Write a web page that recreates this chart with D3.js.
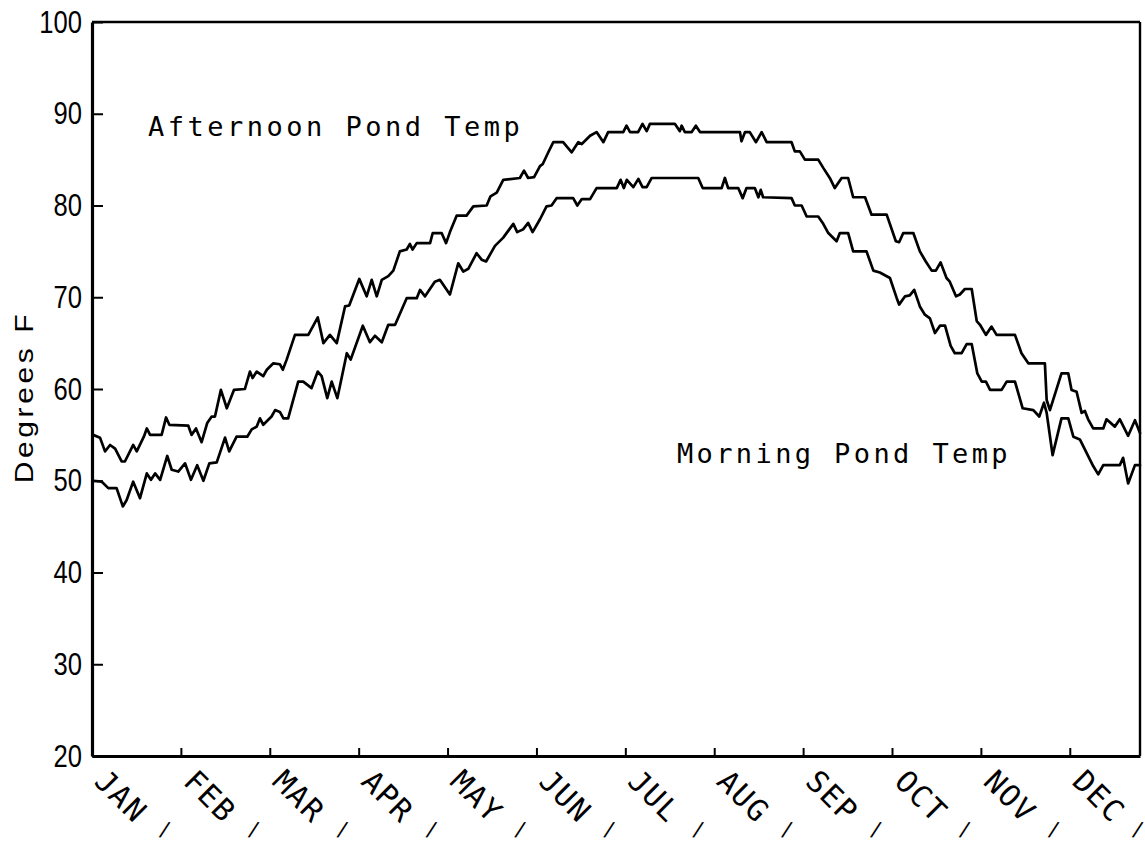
<!DOCTYPE html>
<html>
<head>
<meta charset="utf-8">
<script src="https://cdn.jsdelivr.net/npm/d3@7"></script>
<style>
  body { margin: 0; background: #fff; }
  svg { display: block; }
  .axis path, .axis line { stroke: #000; }
  .axis text { fill: #000; }
  .line { fill: none; stroke: #000; stroke-width: 2.7; stroke-linejoin: round; stroke-linecap: round; }
  .plotter { font-family: "DejaVu Sans Mono", monospace; fill: #000; }
</style>
</head>
<body>
<svg width="1145" height="845"></svg>
<script>
// Months on the x axis (30-day steps), y tick values
const months = ["JAN","FEB","MAR","APR","MAY","JUN","JUL","AUG","SEP","OCT","NOV","DEC"];
const monthStarts = [0, 30, 60, 90, 120, 150, 180, 210, 240, 270, 300, 330];
const yTicks = [20, 30, 40, 50, 60, 70, 80, 90, 100];

// Afternoon pond temperature (day, °F)
const afternoonDay = [0.4,2.7,4.4,6.1,7.8,10.0,11.1,13.9,15.1,17.5,18.5,19.6,23.5,25.0,26.1,32.5,33.6,35.1,37.0,38.9,
  40.4,41.5,43.5,45.5,47.9,51.6,53.3,54.2,55.6,57.8,59.0,61.2,63.4,64.4,65.7,68.5,73.0,76.2,78.1,80.3,
  82.6,85.4,86.8,90.2,92.7,94.4,96.1,97.8,100.0,101.7,103.9,106.2,107.3,108.2,109.6,114.1,115.0,118.0,119.5,120.8,
  123.1,126.4,128.7,133.2,134.5,136.6,138.8,144.4,145.8,147.2,149.2,151.2,152.1,154.0,155.7,159.0,161.9,164.1,165.3,168.1,
  170.3,172.6,174.2,179.3,180.4,181.6,184.3,185.8,187.2,188.3,196.7,198.4,199.0,200.1,202.4,203.8,205.2,218.7,219.2,220.4,
  222.0,224.1,226.0,227.7,236.1,237.2,238.9,240.6,245.1,246.8,249.0,250.7,253.0,255.2,256.9,260.9,263.1,268.2,271.3,272.4,
  273.8,277.2,279.4,281.4,283.4,284.8,286.4,288.4,289.5,291.6,292.9,294.6,296.9,298.6,299.7,301.7,303.6,305.3,311.5,313.7,
  316.0,321.6,322.2,323.3,327.2,329.5,330.6,332.3,334.0,335.1,336.2,337.9,341.3,342.4,345.2,346.9,349.7,352.0,353.7];
const afternoonTemp = [55.0,54.7,53.2,53.9,53.5,52.1,52.1,53.9,53.2,54.8,55.7,55.0,55.0,56.9,56.1,56.0,55.0,55.7,54.2,56.3,
  57.0,57.0,59.9,57.9,59.9,60.0,61.9,61.2,61.9,61.4,62.1,62.8,62.7,62.1,63.2,65.9,65.9,67.8,65.0,65.9,
  65.0,69.0,69.1,72.0,70.1,71.9,70.1,71.9,72.3,72.9,75.0,75.2,75.8,75.2,75.9,75.9,77.0,77.0,75.9,77.1,
  78.9,78.9,79.9,80.0,81.0,81.4,82.8,83.0,83.8,83.0,83.1,84.3,84.5,85.8,86.9,86.9,85.8,86.9,86.7,87.6,
  88.0,86.9,88.0,88.0,88.7,88.0,88.0,88.9,88.1,88.9,88.9,88.1,88.7,88.0,88.0,88.7,88.0,88.0,87.0,88.0,
  88.0,86.9,88.0,86.9,86.9,85.9,85.9,85.0,85.0,84.1,83.0,81.9,83.0,83.0,80.9,80.9,79.0,79.0,76.1,76.0,
  77.0,77.0,75.0,73.9,72.9,72.9,73.8,72.1,71.7,70.1,70.3,70.9,70.9,67.4,67.0,65.9,66.8,65.9,65.9,63.9,
  62.8,62.8,58.8,57.7,61.7,61.7,59.9,59.7,57.4,57.6,56.7,55.7,55.7,56.7,55.9,56.7,54.9,56.6,55.2];

// Morning pond temperature (day, °F)
const morningDay = [0.4,3.3,5.5,8.3,10.4,11.7,13.9,16.2,18.5,19.9,21.3,23.0,25.4,26.9,29.1,31.4,33.4,35.5,37.6,39.6,
  42.1,44.9,46.3,48.8,52.4,53.9,55.6,56.7,57.8,60.6,61.8,63.4,64.6,66.2,69.6,71.3,74.1,76.2,77.5,79.4,
  80.9,82.8,86.0,87.3,91.4,93.8,95.5,97.8,100.0,102.3,106.2,109.6,110.7,112.4,115.7,117.4,120.8,123.6,125.3,127.0,
  129.8,131.5,133.0,136.0,138.8,142.2,143.5,145.5,147.2,148.7,151.2,153.4,155.1,156.8,162.4,163.8,165.3,168.1,170.3,177.1,
  178.4,179.5,180.5,182.7,184.4,185.8,187.2,188.9,204.6,206.1,212.5,213.6,214.7,218.1,219.6,220.9,223.7,224.9,225.7,226.5,
  236.1,237.2,239.5,241.2,245.1,246.8,248.5,251.3,252.4,255.2,256.9,261.4,263.7,265.9,269.3,271.6,272.4,274.4,276.0,277.5,
  279.4,281.1,282.8,284.5,286.2,287.9,289.8,291.2,293.5,295.2,296.9,298.8,300.3,301.7,303.1,307.0,308.7,311.5,314.1,317.7,
  319.7,321.3,322.2,324.2,327.2,329.5,331.2,333.4,337.9,339.6,341.3,346.9,348.0,349.7,352.0,353.7];
const morningTemp = [50.0,49.9,49.2,49.2,47.2,47.9,49.9,48.1,50.8,50.1,50.8,50.1,52.7,51.2,51.0,51.9,50.1,51.7,50.0,51.9,
  52.0,54.7,53.2,54.8,54.8,55.6,55.9,56.8,56.1,57.0,57.7,57.5,56.8,56.8,60.8,60.8,60.1,61.9,61.4,59.0,
  60.8,59.0,63.9,63.2,66.9,65.1,65.8,65.1,67.0,67.0,69.9,69.9,70.8,70.1,71.7,71.9,70.3,73.7,72.8,73.1,
  74.8,74.1,73.9,75.6,76.5,78.0,77.1,77.4,78.1,77.1,78.5,79.9,80.0,80.8,80.8,80.0,80.7,80.7,81.9,81.9,
  82.8,81.9,82.8,82.0,82.9,82.0,82.0,83.0,83.0,81.9,81.9,83.0,81.9,81.9,80.8,81.9,81.9,80.9,81.7,80.9,
  80.8,80.0,80.0,78.8,78.8,78.0,77.0,76.1,77.0,77.0,75.0,75.0,72.9,72.7,72.1,69.9,69.2,70.1,70.2,70.8,
  69.0,68.1,67.7,66.1,66.9,66.9,64.7,63.9,63.9,64.9,64.9,61.7,60.8,60.8,59.9,59.9,60.8,60.8,57.9,57.7,
  57.0,58.5,57.4,52.8,56.8,56.8,54.8,54.5,51.6,50.7,51.7,51.7,52.5,49.7,51.7,51.7];

const svg = d3.select("svg"),
    margin = {top: 22, right: 5, bottom: 89, left: 92},
    width = svg.attr("width") - margin.left - margin.right,
    height = svg.attr("height") - margin.top - margin.bottom,
    g = svg.append("g").attr("transform", "translate(" + margin.left + "," + margin.top + ")");

const xScale = d3.scaleLinear().domain([0, 353.7]).range([0, width]),
    yScale = d3.scaleLinear().domain([20, 100]).range([height, 0]);

const line = d3.line()
    .x(function(d) { return xScale(d.day); })
    .y(function(d) { return yScale(d.temp); });

const series = [
  {id: "afternoon", values: afternoonDay.map(function(d, i) { return {day: d, temp: afternoonTemp[i]}; })},
  {id: "morning", values: morningDay.map(function(d, i) { return {day: d, temp: morningTemp[i]}; })}
];

// Frame: top and right edges
g.append("line").attr("x1", 0).attr("x2", width).attr("y1", 0).attr("y2", 0)
    .attr("stroke", "#000").attr("stroke-width", 2.4);
g.append("line").attr("x1", width).attr("x2", width).attr("y1", 0).attr("y2", height)
    .attr("stroke", "#000").attr("stroke-width", 2.4);

// Y axis, ticks pointing inside, narrow labels
const yAxis = g.append("g")
    .attr("class", "axis")
    .call(d3.axisLeft(yScale).tickValues(yTicks).tickSize(-11).tickSizeOuter(0).tickPadding(10));
yAxis.select(".domain").attr("stroke-width", 3.2);
yAxis.selectAll(".tick line").attr("stroke-width", 2);
yAxis.selectAll("text")
    .attr("x", -10 / 0.8)
    .attr("transform", "scale(0.8,1)")
    .style("font-family", "'Liberation Sans', Arial, sans-serif")
    .style("font-size", "32px");

// X axis, month ticks pointing inside
const xAxis = g.append("g")
    .attr("class", "axis")
    .attr("transform", "translate(0," + height + ")")
    .call(d3.axisBottom(xScale).tickValues(monthStarts).tickSize(-8).tickSizeOuter(0).tickFormat(""));
xAxis.select(".domain").attr("stroke-width", 3.2);
xAxis.selectAll(".tick line").attr("stroke-width", 2);

// Month labels at 45 degrees, with the slash marks under them
const monthLabel = g.append("g").selectAll("g")
    .data(monthStarts)
  .enter().append("g")
    .attr("transform", function(d) { return "translate(" + xScale(d) + "," + height + ")"; });

monthLabel.append("text")
    .attr("class", "plotter")
    .attr("transform", "translate(1,27) rotate(45)")
    .style("font-size", "30px")
    .style("letter-spacing", "1.5px")
    .text(function(d, i) { return months[i]; });

monthLabel.append("text")
    .attr("class", "plotter")
    .attr("transform", function(d) {
      const dx = Math.min(72, width - xScale(d) - 3);
      return "translate(" + dx + ",80) rotate(8)";
    })
    .attr("text-anchor", "middle")
    .style("font-size", "20px")
    .text("/");

// Y axis title
svg.append("text")
    .attr("transform", "translate(33,397) rotate(-90) scale(1.2,1)")
    .attr("text-anchor", "middle")
    .style("font-family", "'Liberation Sans', Arial, sans-serif")
    .style("font-size", "25px")
    .style("letter-spacing", "3px")
    .text("Degrees F");

// Temperature lines
g.selectAll(".line")
    .data(series)
  .enter().append("path")
    .attr("class", "line")
    .attr("d", function(d) { return line(d.values); });

// Series labels
g.append("text")
    .attr("class", "plotter")
    .attr("x", xScale(18.9))
    .attr("y", yScale(87.6))
    .style("font-size", "27px")
    .style("letter-spacing", "3.5px")
    .text("Afternoon Pond Temp");

g.append("text")
    .attr("class", "plotter")
    .attr("x", xScale(197.4))
    .attr("y", yScale(51.9))
    .style("font-size", "27px")
    .style("letter-spacing", "3.4px")
    .text("Morning Pond Temp");
</script>
</body>
</html>
